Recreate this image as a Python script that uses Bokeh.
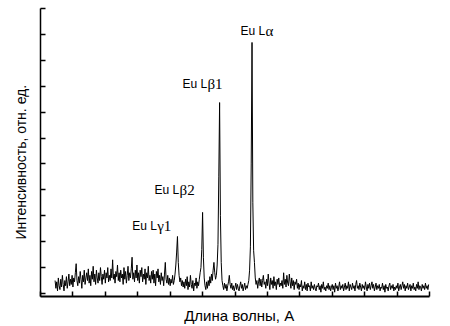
from bokeh.plotting import figure
from bokeh.models import ColumnDataSource, Range1d, FixedTicker
from bokeh.core.properties import value
from bokeh.embed import file_html
from bokeh.resources import INLINE

# --- data ---
x_start = 0.45
x_step = 0.025
intensity = [
    0.5, 0.2, 0.45, 0.1, 0.6, 0.3, 0.15, 0.55, 0.25, 0.7, 0.35, 0.1, 0.5, 0.3, 0.65, 0.2, 0.45, 0.75, 0.3, 0.55,
    0.35, 0.7, 0.25, 0.6, 0.45, 0.8, 1.15, 0.5, 0.3, 0.65, 0.4, 0.85, 0.55, 0.2, 0.7, 0.45, 0.9, 0.35, 0.6, 0.8,
    0.5, 0.95, 0.4, 0.7, 0.3, 0.85, 0.55, 1.05, 0.45, 0.75, 0.35, 0.9, 0.6, 0.4, 0.8, 0.5, 1.0, 0.65, 0.35, 0.75,
    0.55, 0.9, 0.4, 0.8, 0.6, 1.0, 0.45, 0.7, 0.5, 0.95, 0.6, 1.3, 0.55, 0.75, 0.4, 0.85, 0.65, 1.1, 0.5, 0.8,
    0.45, 0.9, 0.6, 0.75, 0.35, 1.0, 0.55, 0.85, 0.4, 0.7, 1.05, 0.5, 0.8, 0.6, 0.95, 1.4, 0.55, 0.8, 0.45, 0.9,
    0.6, 1.1, 0.5, 0.8, 0.4, 0.9, 0.65, 1.0, 0.45, 0.75, 0.55, 0.95, 0.35, 0.8, 0.6, 1.05, 0.5, 0.7, 0.4, 0.85,
    0.55, 0.9, 0.4, 0.75, 0.3, 0.85, 0.6, 0.95, 0.45, 0.7, 0.35, 0.8, 0.5, 0.65, 0.3, 0.75, 1.2, 0.55, 0.4, 0.7,
    0.35, 0.6, 0.3, 0.55, 0.4, 0.7, 0.35, 0.5, 0.75, 1.1, 1.6, 2.2, 1.2, 0.7, 0.45, 0.6, 0.3, 0.5, 0.25, 0.45,
    0.2, 0.55, 0.3, 0.65, 0.15, 0.45, 0.25, 0.7, 0.35, 0.2, 0.5, 0.1, 0.4, 0.3, 0.6, 0.2, 0.45, 0.3, 0.55, 0.8,
    1.0, 1.7, 3.13, 1.4, 0.6, 0.3, 0.15, 0.45, 0.2, 0.5, 0.3, 0.65, 0.4, 0.75, 0.5, 0.9, 1.2, 0.8, 0.55, 0.7,
    1.1, 1.9, 4.5, 7.37, 3.0, 1.2, 0.5, 0.3, 0.15, 0.4, 0.2, 0.35, 0.1, 0.3, 0.45, 0.7, 0.35, 0.2, 0.4, 0.15,
    0.3, 0.1, 0.25, 0.4, 0.15, 0.35, 0.2, 0.1, 0.3, 0.45, 0.2, 0.35, 0.1, 0.25, 0.4, 0.15, 0.3, 0.2, 0.35, 0.5,
    0.9, 1.8, 5.0, 9.69, 3.5, 1.65, 1.2, 0.6, 0.35, 0.5, 0.2, 0.45, 0.6, 0.3, 0.55, 0.25, 0.5, 0.7, 0.35, 0.45,
    0.2, 0.55, 0.3, 0.75, 0.4, 0.15, 0.6, 0.35, 0.5, 0.2, 0.65, 0.3, 0.45, 0.15, 0.55, 0.35, 0.6, 0.25, 0.4, 0.3,
    0.5, 0.2, 0.8, 0.35, 0.55, 0.25, 0.7, 0.4, 0.3, 0.75, 0.45, 0.2, 0.6, 0.3, 0.5, 0.15, 0.45, 0.35, 0.55, 0.2,
    0.4, 0.15, 0.35, 0.25, 0.5, 0.1, 0.3, 0.2, 0.45, 0.15, 0.35, 0.1, 0.4, 0.25, 0.3, 0.1, 0.45, 0.2, 0.3, 0.15,
    0.35, 0.2, 0.1, 0.3, 0.25, 0.4, 0.15, 0.3, 0.05, 0.35, 0.2, 0.45, 0.15, 0.25, 0.1, 0.3, 0.2, 0.4, 0.15, 0.3,
    0.1, 0.25, 0.35, 0.15, 0.3, 0.05, 0.4, 0.2, 0.3, 0.1, 0.25, 0.45, 0.15, 0.3, 0.2, 0.35, 0.1, 0.25, 0.4, 0.15,
    0.3, 0.2, 0.45, 0.1, 0.35, 0.25, 0.15, 0.4, 0.2, 0.3, 0.1, 0.35, 0.5, 0.2, 0.3, 0.15, 0.4, 0.25, 0.1, 0.35,
    0.2, 0.3, 0.15, 0.45, 0.25, 0.1, 0.35, 0.2, 0.4, 0.15, 0.3, 0.45, 0.2, 0.35, 0.1, 0.25, 0.4, 0.15, 0.3, 0.2,
    0.35, 0.1, 0.25, 0.2, 0.4, 0.15, 0.3, 0.05, 0.35, 0.2, 0.25, 0.1, 0.3, 0.4, 0.15, 0.3, 0.2, 0.35, 0.1, 0.25,
    0.15, 0.3, 0.2, 0.4, 0.1, 0.25, 0.35, 0.15, 0.3, 0.45, 0.2, 0.35, 0.1, 0.3, 0.2, 0.4, 0.15, 0.25, 0.35, 0.1,
    0.3, 0.2, 0.4, 0.15, 0.25, 0.1, 0.35, 0.2, 0.45, 0.15, 0.3, 0.25, 0.1, 0.35, 0.2, 0.3, 0.15, 0.4, 0.2, 0.3,
    0.15, 0.35,
]
wavelength = [x_start + x_step * i for i in range(len(intensity))]

peak_prefix = ["Eu L", "Eu L", "Eu L", "Eu L"]
peak_suffix = ["\u03b31", "\u03b22", "\u03b21", "\u03b1"]
label_x = [2.83, 3.52, 4.38, 6.17]
label_y = [2.6, 3.98, 8.07, 10.12]

x_ticks = list(range(0, 13))
y_ticks = list(range(0, 12))

x_title = "\u00a0\u00a0Длина волны, А"
y_title = "Интенсивность, отн. ед.\u00a0\u00a0\u00a0\u00a0\u00a0"

# --- figure ---
p = figure(width=440, height=326, output_backend="svg", toolbar_location=None,
           x_range=Range1d(0, 12.0), y_range=Range1d(-0.116, 11.0),
           min_border_left=40, min_border_right=11, min_border_top=8,
           min_border_bottom=30)
p.outline_line_color = None
p.grid.visible = False
p.background_fill_color = "white"
p.border_fill_color = "white"

for ax, ticks, lw in ((p.xaxis[0], x_ticks, 2), (p.yaxis[0], y_ticks, 1.5)):
    ax.ticker = FixedTicker(ticks=ticks)
    ax.major_tick_in = 5
    ax.major_tick_out = 0
    ax.minor_tick_line_color = None
    ax.major_label_overrides = {t: "" for t in ticks}
    ax.major_label_text_font_size = "1px"
    ax.major_label_standoff = 0
    ax.axis_line_width = lw
    ax.major_tick_line_width = 1.5
    ax.axis_line_color = "black"
    ax.major_tick_line_color = "black"
    ax.axis_label_text_font = "Liberation Sans"
    ax.axis_label_text_font_style = "normal"
    ax.axis_label_text_color = "black"

p.xaxis[0].axis_label = x_title
p.xaxis[0].axis_label_text_font_size = "15px"
p.xaxis[0].axis_label_standoff = 10
p.yaxis[0].axis_label = y_title
p.yaxis[0].axis_label_text_font_size = "14px"
p.yaxis[0].axis_label_standoff = 12

src = ColumnDataSource(dict(x=wavelength, y=intensity))
p.line("x", "y", source=src, line_color="black", line_width=1)

lsrc = ColumnDataSource(dict(x=label_x, y=label_y, pre=peak_prefix, suf=peak_suffix))
p.text("x", "y", text="pre", source=lsrc, text_font=value("Liberation Sans"),
       text_font_size="12px", text_color="black", text_align="left",
       text_baseline="alphabetic")
p.text("x", "y", text="suf", source=lsrc, text_font=value("Liberation Serif"),
       text_font_size="15px", text_color="black", text_align="left",
       text_baseline="alphabetic", x_offset=25)

open("out.html", "w").write(file_html(p, INLINE))
